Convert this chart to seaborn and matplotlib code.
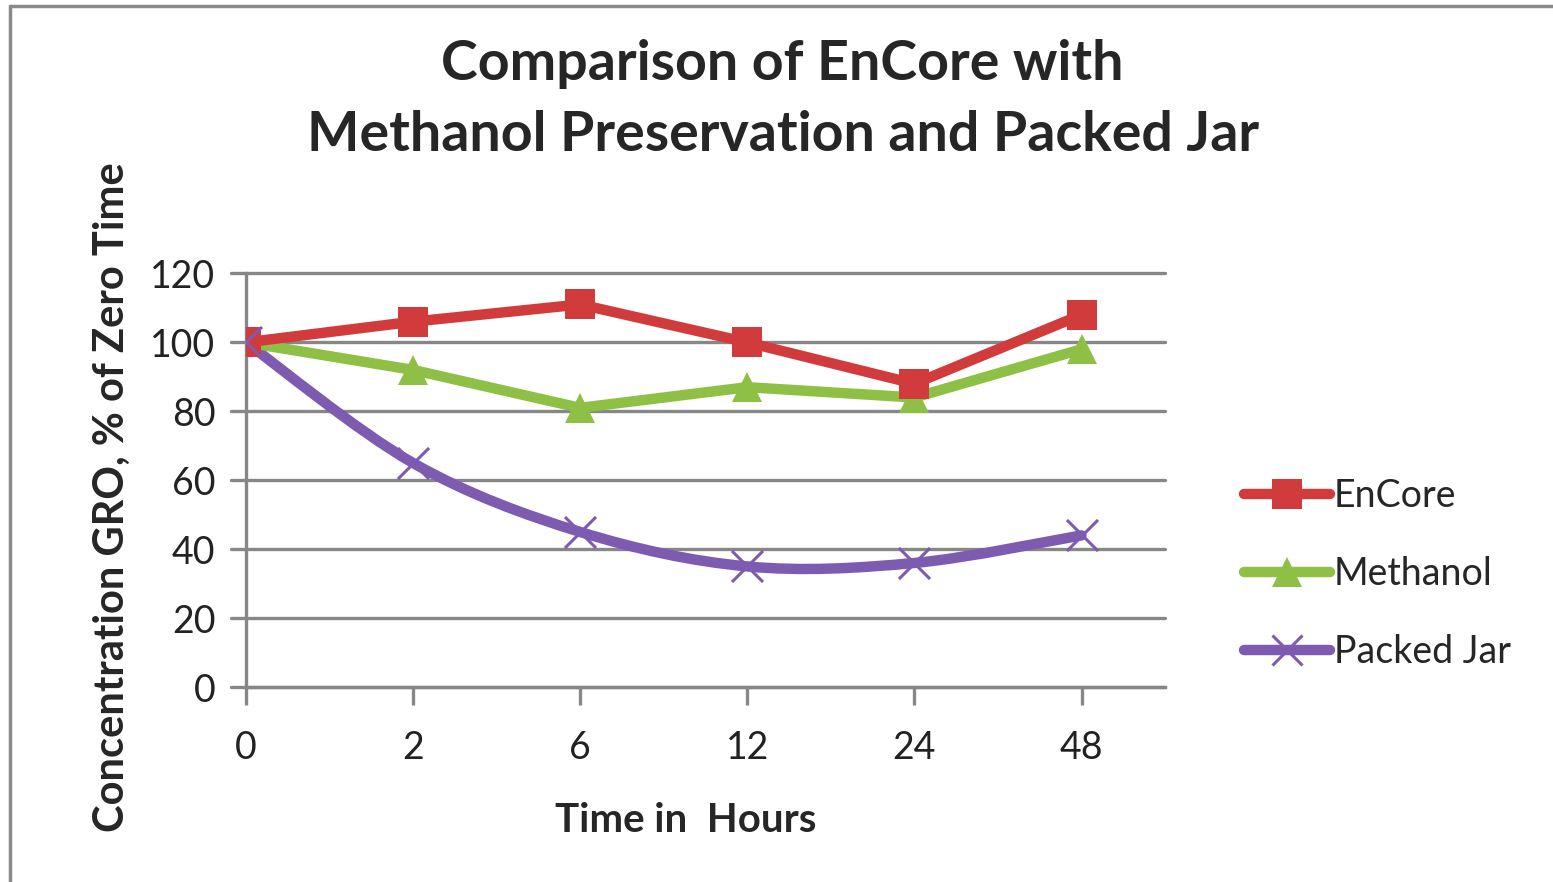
import numpy as np
import pandas as pd
import matplotlib
matplotlib.use("Agg")
import matplotlib.pyplot as plt
from matplotlib.path import Path
from matplotlib.patches import PathPatch
from matplotlib.lines import Line2D
import seaborn as sns

# Data
hours = ["0", "2", "6", "12", "24", "48"]
encore = [100, 106, 111, 100, 88, 108]
methanol = [100, 92, 81, 87, 84, 98]
packed_jar = [100, 65, 45, 35, 36, 44]

series_names = ["EnCore", "Methanol", "Packed Jar"]
colors = {"EnCore": "#D13B3B", "Methanol": "#8DC044", "Packed Jar": "#7D5BB0"}

sns.set_theme(style="white")
plt.rcParams["font.family"] = ["Lato", "DejaVu Sans"]

fig = plt.figure(figsize=(15.53, 8.82), dpi=100)
ax = fig.add_axes([0.1584, 0.221, 0.5918, 0.469])

idx = np.arange(len(hours))
df = pd.DataFrame({"idx": idx, "EnCore": encore, "Methanol": methanol})

grid_color = "#878787"
for y in range(0, 121, 20):
    ax.axhline(y, color=grid_color, lw=2.4, zorder=1, xmin=-0.016, clip_on=False)

# Straight series
sns.lineplot(data=df, x="idx", y="EnCore", ax=ax, color=colors["EnCore"], lw=7.5,
             marker="s", markersize=22, markeredgewidth=0, zorder=4)
sns.lineplot(data=df, x="idx", y="Methanol", ax=ax, color=colors["Methanol"], lw=7.5,
             marker="^", markersize=22, markeredgewidth=0, zorder=3)

# Smoothed series: Catmull-Rom curve converted to cubic Bezier segments
pts = np.column_stack([idx, packed_jar]).astype(float)
verts = [tuple(pts[0])]
codes = [Path.MOVETO]
n = len(pts)
for i in range(n - 1):
    p0 = pts[i - 1] if i > 0 else pts[i]
    p1 = pts[i]
    p2 = pts[i + 1]
    p3 = pts[i + 2] if i + 2 < n else pts[i + 1]
    c1 = p1 + (p2 - p0) / 6.0
    c2 = p2 - (p3 - p1) / 6.0
    verts += [tuple(c1), tuple(c2), tuple(p2)]
    codes += [Path.CURVE4] * 3
ax.add_patch(PathPatch(Path(verts, codes), facecolor="none", edgecolor=colors["Packed Jar"],
                       lw=7.5, capstyle="round", joinstyle="round", zorder=2))
sns.scatterplot(x=idx, y=packed_jar, ax=ax, marker="x", s=500, color=colors["Packed Jar"],
                linewidth=2.2, zorder=5)

ax.set_xlim(0, 5.5)
ax.set_ylim(0, 120)
ax.set_xticks(idx)
ax.set_xticklabels(hours)
ax.set_yticks(range(0, 121, 20))
ax.tick_params(axis="both", labelsize=27, colors="#222222")
ax.tick_params(axis="x", length=13, width=2.4, color=grid_color, direction="out", bottom=True, pad=18)
ax.tick_params(axis="y", length=0, pad=22)
for s in ["top", "right"]:
    ax.spines[s].set_visible(False)
for s in ["left", "bottom"]:
    ax.spines[s].set_color(grid_color)
    ax.spines[s].set_linewidth(2.4)
ax.set_xlabel("Time in  Hours", fontsize=29, fontweight="bold")
ax.xaxis.set_label_coords(0.478, -0.277)
ax.set_ylabel("Concentration GRO, % of Zero Time", fontsize=30, fontweight="bold")
ax.yaxis.set_label_coords(-0.125, 0.46)

fig.text(0.504, 0.928, "Comparison of EnCore with", ha="center", va="center",
         fontsize=40, fontweight="bold")
fig.text(0.504, 0.847, "Methanol Preservation and Packed Jar", ha="center", va="center",
         fontsize=40, fontweight="bold")

handles = [
    Line2D([], [], color=colors["EnCore"], lw=7.5, marker="s", markersize=22, markeredgewidth=0),
    Line2D([], [], color=colors["Methanol"], lw=7.5, marker="^", markersize=22, markeredgewidth=0),
    Line2D([], [], color=colors["Packed Jar"], lw=7.5, marker="x", markersize=22, markeredgewidth=2.2),
]
fig.legend(handles, series_names, loc="center left", bbox_to_anchor=(0.779, 0.349),
           frameon=False, fontsize=27, handlelength=2.3, labelspacing=1.12,
           handletextpad=0.1)

# Frame lines along the top and left edges
fig.add_artist(Line2D([0.0065, 1.0], [0.993, 0.993], transform=fig.transFigure,
                      color="#8a8a8a", lw=2.5))
fig.add_artist(Line2D([0.0065, 0.0065], [0.0, 0.993], transform=fig.transFigure,
                      color="#8a8a8a", lw=2.5))

fig.savefig("out.png", dpi=100, facecolor="white")
